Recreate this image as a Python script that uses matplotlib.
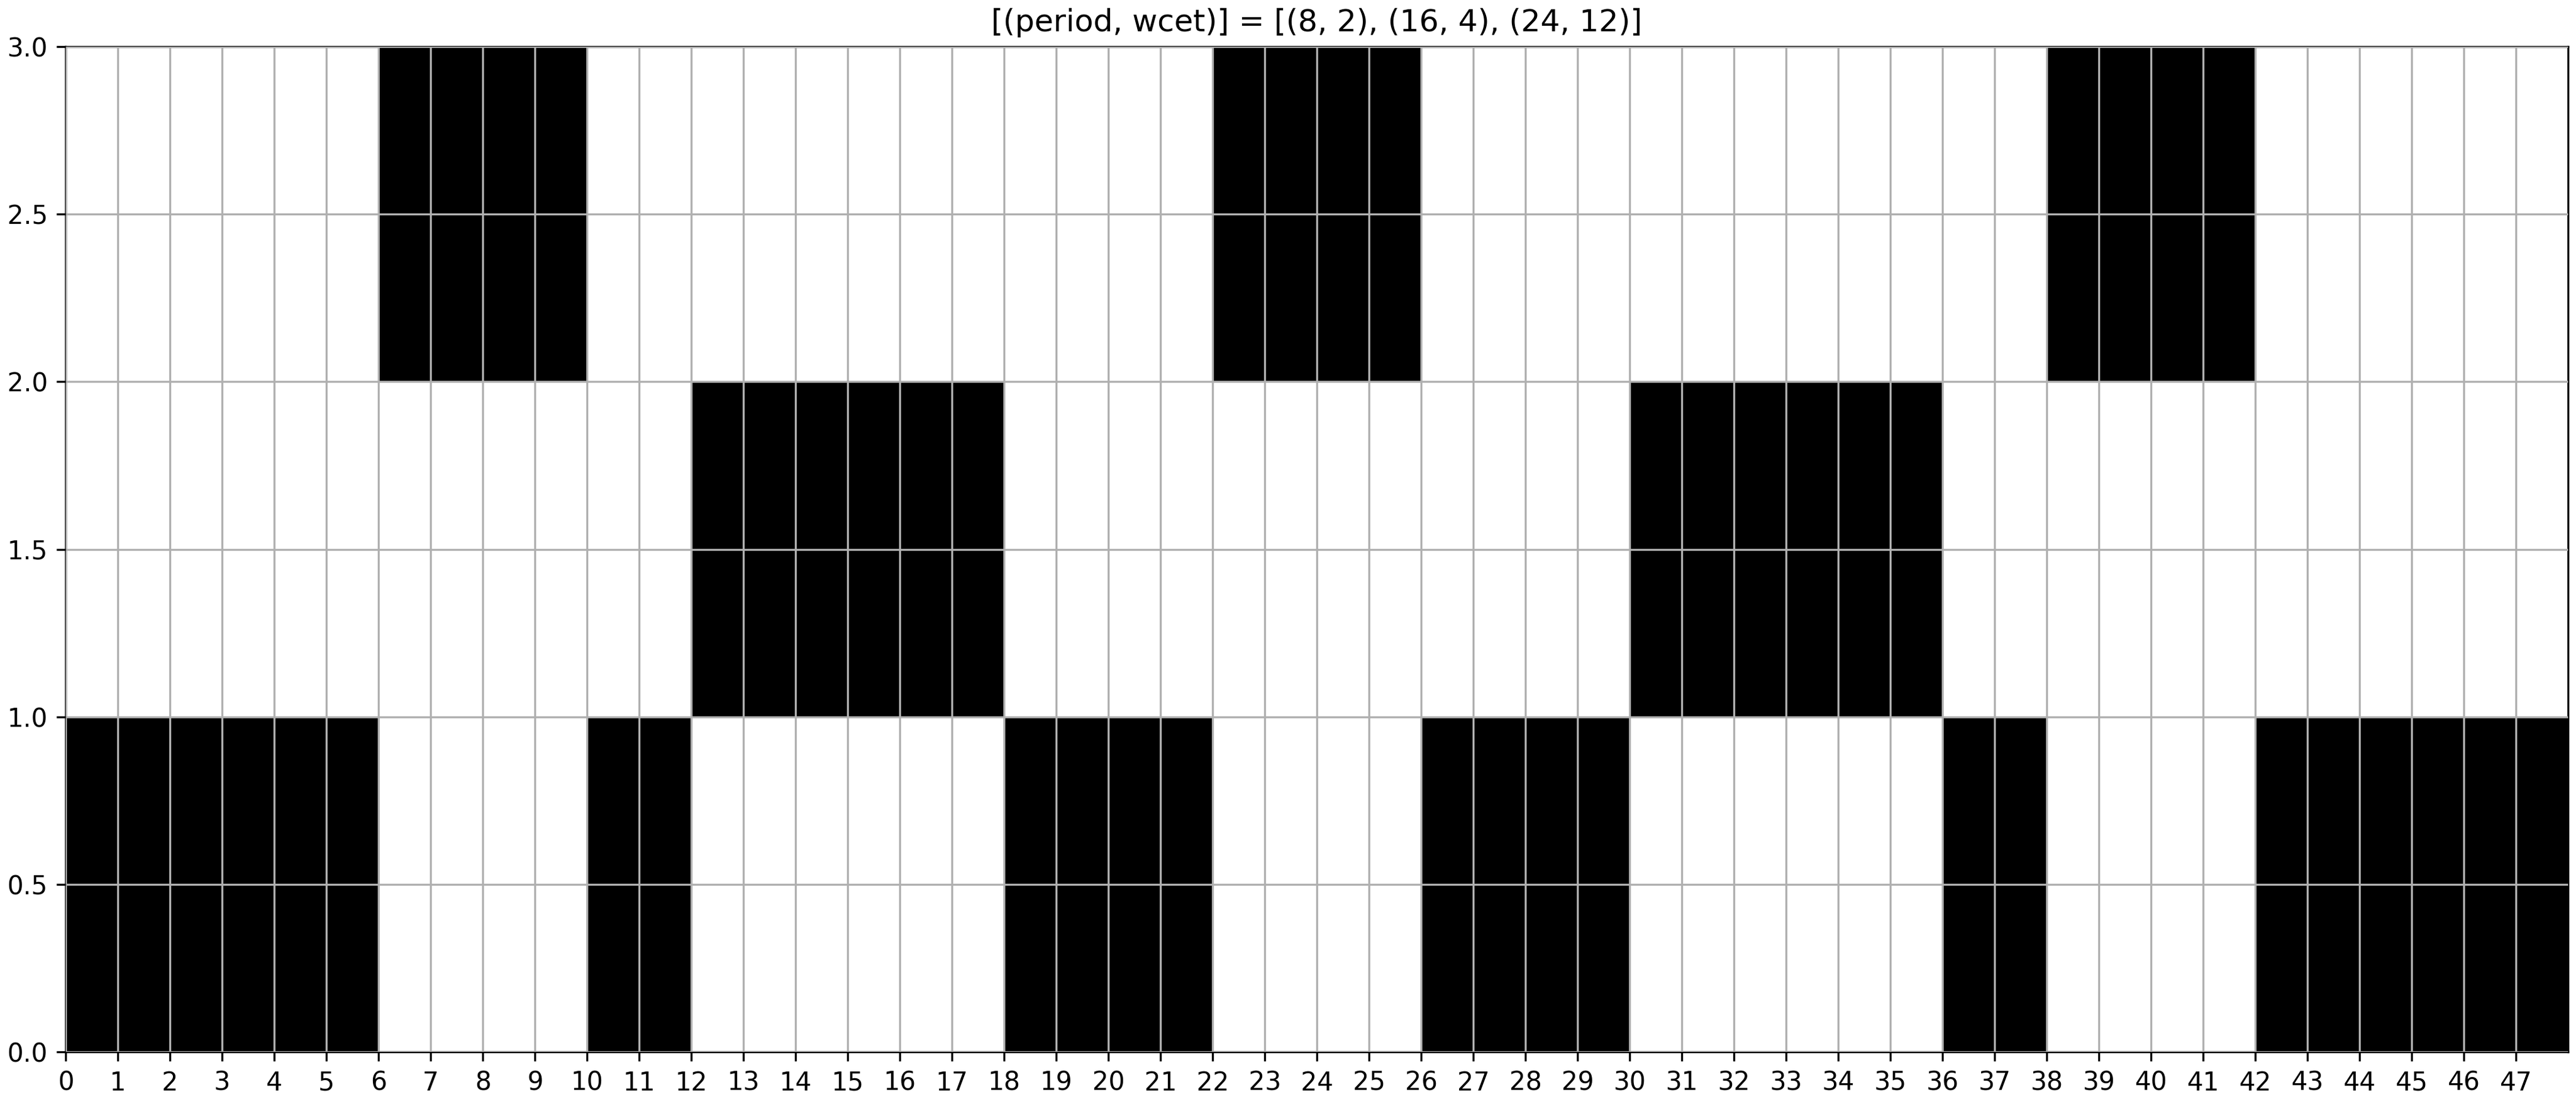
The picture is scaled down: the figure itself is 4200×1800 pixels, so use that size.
import matplotlib
matplotlib.use('Agg')
from matplotlib import pyplot as plt

# task set shown in the title
tasks = [(8, 2), (16, 4), (24, 12)]

# which task row is busy at each time slot (0 = bottom row)
schedule = [0, 0, 0, 0, 0, 0,
            2, 2, 2, 2,
            0, 0,
            1, 1, 1, 1, 1, 1,
            0, 0, 0, 0,
            2, 2, 2, 2,
            0, 0, 0, 0,
            1, 1, 1, 1, 1, 1,
            0, 0,
            2, 2, 2, 2,
            0, 0, 0, 0, 0, 0]

time_slots = list(range(len(schedule)))

fig, ax = plt.subplots(figsize=(14, 6), dpi=300)

ax.bar(time_slots, [1] * len(schedule), width=1, bottom=schedule,
       align='edge', color='black')

ax.set_xlim(0, len(schedule))
ax.set_ylim(0, len(tasks))
ax.set_xticks(time_slots)
ax.set_axisbelow(False)
ax.grid(True)

ax.set_title('[(period, wcet)] = [{}]'.format(
    ', '.join('({}, {})'.format(p, w) for p, w in tasks)))

fig.subplots_adjust(left=0.0255, right=0.997, top=0.958, bottom=0.047)
fig.savefig('out.png')
